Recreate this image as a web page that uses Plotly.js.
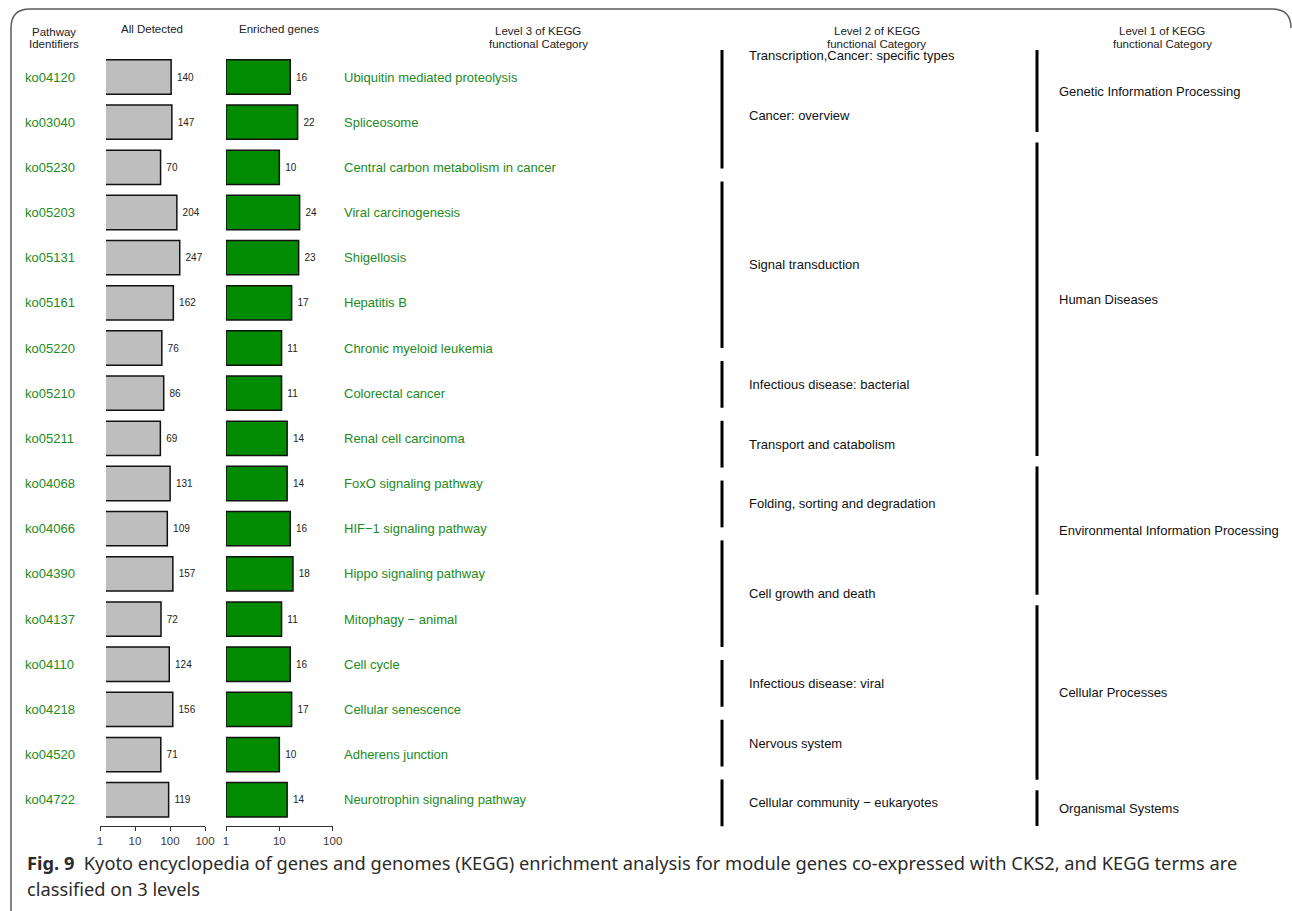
<!DOCTYPE html>
<html>
<head>
<meta charset="utf-8">
<script src="https://cdn.plot.ly/plotly-3.0.1.min.js"></script>
<style>
  html, body { margin: 0; padding: 0; background: #ffffff; }
  #chart { width: 1292px; height: 911px; }
</style>
</head>
<body>
<div id="chart"></div>
<script>
// KEGG pathways, top to bottom
const PATHWAY_IDS = ['ko04120', 'ko03040', 'ko05230', 'ko05203', 'ko05131', 'ko05161', 'ko05220',
  'ko05210', 'ko05211', 'ko04068', 'ko04066', 'ko04390', 'ko04137', 'ko04110', 'ko04218',
  'ko04520', 'ko04722'];
const ALL_DETECTED = [140, 147, 70, 204, 247, 162, 76, 86, 69, 131, 109, 157, 72, 124, 156, 71, 119];
const ENRICHED = [16, 22, 10, 24, 23, 17, 11, 11, 14, 14, 16, 18, 11, 16, 17, 10, 14];
const LEVEL3 = ['Ubiquitin mediated proteolysis', 'Spliceosome', 'Central carbon metabolism in cancer',
  'Viral carcinogenesis', 'Shigellosis', 'Hepatitis B', 'Chronic myeloid leukemia', 'Colorectal cancer',
  'Renal cell carcinoma', 'FoxO signaling pathway', 'HIF\u22121 signaling pathway', 'Hippo signaling pathway',
  'Mitophagy \u2212 animal', 'Cell cycle', 'Cellular senescence', 'Adherens junction',
  'Neurotrophin signaling pathway'];

// Level 2 brackets: label(s) and bracket length in slots
const LEVEL2_LABELS = [
  ['Transcription,Cancer: specific types', 'Cancer: overview'],
  ['Signal transduction'], ['Infectious disease: bacterial'], ['Transport and catabolism'],
  ['Folding, sorting and degradation'], ['Cell growth and death'], ['Infectious disease: viral'],
  ['Nervous system'], ['Cellular community \u2212 eukaryotes']];
const LEVEL2_SLOTS = [2.2, 3, 1, 1, 1, 2, 1, 1, 1];

// Level 1 brackets: label and number of pathways
const LEVEL1_LABELS = ['Genetic Information Processing', 'Human Diseases',
  'Environmental Information Processing', 'Cellular Processes', 'Organismal Systems'];
const LEVEL1_COUNTS = [2, 7, 3, 4, 1];

const ALL_TICKS = [1, 10, 100, 1000];
const ALL_TICK_TEXT = ['1', '10', '100', '100'];
const ENR_TICKS = [1, 10, 100];
const ENR_TICK_TEXT = ['1', '10', '100'];

// ---- page geometry helpers (pixels -> paper fractions) ----
const W = 1292, H = 911;
const px = x => x / W;
const py = y => 1 - y / H;

const SANS = 'Liberation Sans, Arial, Helvetica, sans-serif';
const GREEN_TEXT = '#228B22';
const GREEN_BAR = '#008B00';

// row band: first row centred at 77px, 45.17px per row
const ROW = 45.17, ROW0 = 77;
const n = PATHWAY_IDS.length;
const yTop = ROW0 - ROW / 2, yBot = ROW0 + (n - 0.5) * ROW;

// bracket panels
const L2_UNIT = 59.8, L2_GAP = 13 / 59.8, L2_TOP = 50;
const L1_UNIT = 46.27, L1_GAP = 10.5 / 46.27, L1_TOP = 50;
const L2_TOTAL = LEVEL2_SLOTS.reduce((a, b) => a + b, 0);
const L1_TOTAL = LEVEL1_COUNTS.reduce((a, b) => a + b, 0);

function brackets(sizes, gap) {
  const out = [];
  let c = 0;
  sizes.forEach(s => { out.push([c, c + s - gap]); c += s; });
  return out;
}
const l2 = brackets(LEVEL2_SLOTS, L2_GAP);
const l1 = brackets(LEVEL1_COUNTS, L1_GAP);

function segTrace(spans, xPos, yaxis) {
  const xs = [], ys = [];
  spans.forEach(([a, b]) => { xs.push(xPos, xPos, null); ys.push(a, b, null); });
  return {
    type: 'scatter', mode: 'lines', x: xs, y: ys, xaxis: 'x4', yaxis: yaxis,
    line: { color: '#000000', width: 3 }, hoverinfo: 'skip', connectgaps: false
  };
}

const valueFont = { family: SANS, size: 10, color: '#222222' };

const traces = [
  {
    type: 'bar', orientation: 'h', y: PATHWAY_IDS, x: ALL_DETECTED,
    xaxis: 'x', yaxis: 'y',
    marker: { color: '#BEBEBE', line: { color: '#111111', width: 1.5 } },
    text: ALL_DETECTED.map(v => '\u00a0' + v), textposition: 'outside', textangle: 0,
    constraintext: 'none', cliponaxis: true, textfont: valueFont, hoverinfo: 'x+y'
  },
  {
    type: 'bar', orientation: 'h', y: PATHWAY_IDS, x: ENRICHED.map(v => v - 1), base: 1,
    xaxis: 'x2', yaxis: 'y',
    marker: { color: GREEN_BAR, line: { color: '#111111', width: 1.5 } },
    text: ENRICHED.map(v => '\u00a0' + v), textposition: 'outside', textangle: 0,
    constraintext: 'none', cliponaxis: false, textfont: valueFont, hoverinfo: 'y'
  },
  {
    // carries the scale axis under the "All Detected" column
    type: 'scatter', mode: 'markers', x: [ALL_TICKS[0], ALL_TICKS[ALL_TICKS.length - 1]],
    y: [PATHWAY_IDS[0], PATHWAY_IDS[0]], xaxis: 'x3', yaxis: 'y',
    marker: { opacity: 0 }, hoverinfo: 'skip'
  },
  segTrace(l2, 722, 'y2'),
  segTrace(l1, 1037, 'y3')
];

const tickAxis = {
  type: 'log', showgrid: false, zeroline: false, showline: true, linecolor: '#333333', linewidth: 1,
  ticks: 'outside', ticklen: 4, tickwidth: 1, tickcolor: '#333333',
  tickfont: { family: SANS, size: 11.5, color: '#3a3a3a' },
  anchor: 'free', position: py(826), side: 'bottom', fixedrange: true
};

const annotations = [];
function ann(text, x, y, o) {
  annotations.push(Object.assign({
    text: text, x: px(x), y: py(y), xref: 'paper', yref: 'paper', showarrow: false,
    xanchor: 'center', yanchor: 'middle', font: { family: SANS, size: 11.5, color: '#222222' }
  }, o || {}));
}

// column headers
ann('Pathway', 54, 32); ann('Identifiers', 54, 44);
ann('All Detected', 152, 29);
ann('Enriched genes', 279, 29);
ann('Level 3 of KEGG', 538, 31); ann('functional Category', 538, 44);
ann('Level 2 of KEGG', 877, 31); ann('functional Category', 877, 44);
ann('Level 1 of KEGG', 1162, 31); ann('functional Category', 1162, 44);

// pathway identifiers and level 3 names, placed on the row axis
const rowFont = { family: SANS, size: 13, color: GREEN_TEXT };
PATHWAY_IDS.forEach((id, i) => {
  annotations.push({ text: id, x: px(23), y: id, xref: 'paper', yref: 'y', showarrow: false,
    xanchor: 'left', yanchor: 'middle', font: rowFont });
  annotations.push({ text: LEVEL3[i], x: px(342), y: id, xref: 'paper', yref: 'y', showarrow: false,
    xanchor: 'left', yanchor: 'middle', font: rowFont });
});

// bracket labels
const catFont = { family: SANS, size: 13, color: '#111111' };
LEVEL2_LABELS.forEach((labels, i) => {
  const [a, b] = l2[i];
  labels.forEach((t, k) => {
    const yv = labels.length === 1 ? (a + b) / 2 : a + 0.1 + k;
    annotations.push({ text: t, x: px(747), y: yv, xref: 'paper', yref: 'y2', showarrow: false,
      xanchor: 'left', yanchor: 'middle', font: catFont });
  });
});
LEVEL1_LABELS.forEach((t, i) => {
  const [a, b] = l1[i];
  annotations.push({ text: t, x: px(1057), y: (a + b) / 2, xref: 'paper', yref: 'y3', showarrow: false,
    xanchor: 'left', yanchor: 'middle', font: catFont });
});

// figure caption
const capFont = { family: 'Noto Sans, Open Sans, sans-serif', size: 18.25, color: '#2B2B2B' };
ann('<b>Fig. 9</b>\u00a0\u00a0Kyoto encyclopedia of genes and genomes (KEGG) enrichment analysis for module genes co-expressed with CKS2, and KEGG terms are',
  25, 862, { xanchor: 'left', font: capFont });
ann('classified on 3 levels', 25, 888, { xanchor: 'left', font: capFont });

// rounded frame around the figure
const fx0 = 11, fy0 = 9, fx1 = 1291, r = 19;
const framePath = [
  `M ${px(fx0)} ${py(H + 2)}`,
  `L ${px(fx0)} ${py(fy0 + r)}`,
  `Q ${px(fx0)} ${py(fy0)} ${px(fx0 + r)} ${py(fy0)}`,
  `L ${px(fx1 - r)} ${py(fy0)}`,
  `Q ${px(fx1)} ${py(fy0)} ${px(fx1)} ${py(fy0 + r)}`
].join(' ');

const layout = {
  width: W, height: H,
  margin: { l: 0, r: 0, t: 0, b: 0 },
  paper_bgcolor: '#ffffff', plot_bgcolor: 'rgba(0,0,0,0)',
  showlegend: false, bargap: 0.24, font: { family: SANS },
  xaxis: {
    type: 'log', domain: [px(106), px(215)], range: [10 / 35, 10 / 35 + 109 / 35],
    visible: false, anchor: 'y', fixedrange: true
  },
  xaxis2: Object.assign({}, tickAxis, {
    domain: [px(226), px(332.7)], range: [0, 2], tickvals: ENR_TICKS, ticktext: ENR_TICK_TEXT
  }),
  xaxis3: Object.assign({}, tickAxis, {
    domain: [px(100), px(205)], range: [0, 3], tickvals: ALL_TICKS, ticktext: ALL_TICK_TEXT
  }),
  xaxis4: { domain: [0, 1], range: [0, W], visible: false, anchor: 'y2', fixedrange: true },
  yaxis: {
    type: 'category', categoryorder: 'array', categoryarray: PATHWAY_IDS,
    range: [n - 0.5, -0.5], domain: [py(yBot), py(yTop)], visible: false, anchor: 'x', fixedrange: true
  },
  yaxis2: {
    range: [L2_TOTAL, 0], domain: [py(L2_TOP + L2_TOTAL * L2_UNIT), py(L2_TOP)],
    visible: false, anchor: 'x4', fixedrange: true
  },
  yaxis3: {
    range: [L1_TOTAL, 0], domain: [py(L1_TOP + L1_TOTAL * L1_UNIT), py(L1_TOP)],
    visible: false, anchor: 'x4', fixedrange: true
  },
  annotations: annotations,
  shapes: [{
    type: 'path', xref: 'paper', yref: 'paper', path: framePath,
    line: { color: '#5A5A5A', width: 1.5 }, fillcolor: 'rgba(0,0,0,0)'
  }]
};

Plotly.newPlot('chart', traces, layout, { displayModeBar: false, staticPlot: true });
</script>
</body>
</html>
